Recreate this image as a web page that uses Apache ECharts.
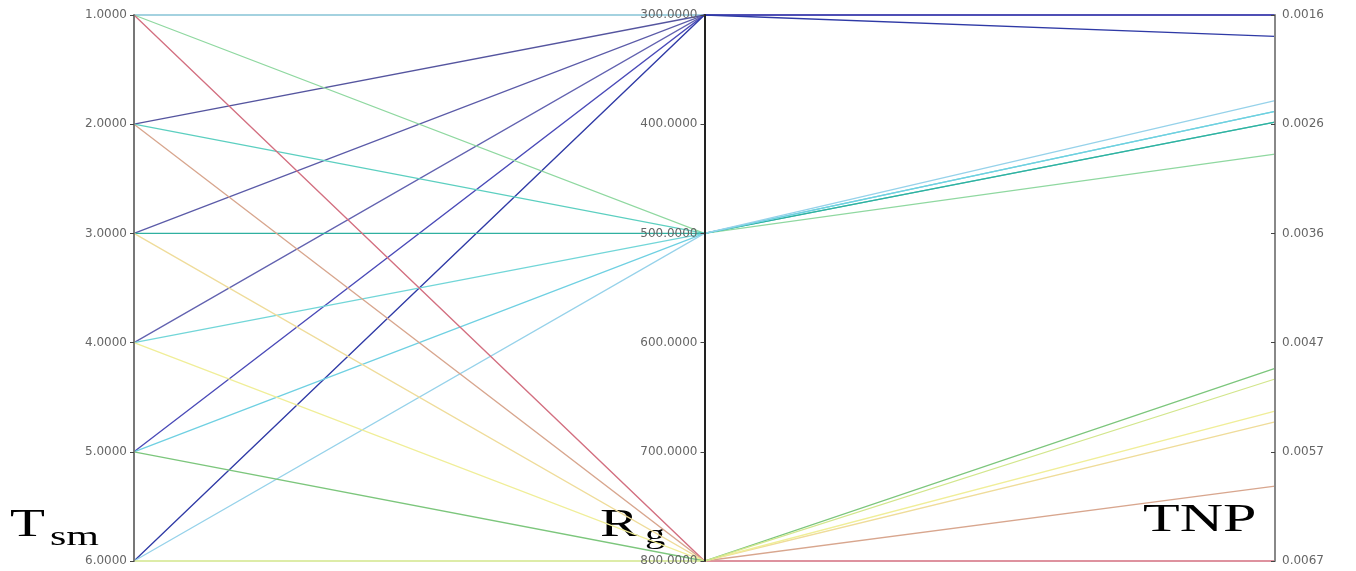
<!DOCTYPE html>
<html>
<head>
<meta charset="utf-8">
<script src="https://cdn.jsdelivr.net/npm/echarts@6/dist/echarts.min.js"></script>
<style>
  html, body { margin: 0; padding: 0; background: #fff; }
  #main { width: 1356px; height: 571px; }
</style>
</head>
<body>
<div id="main"></div>
<script>
// 三个维度的数据（每条折线 = 一组 Tsm / Rg / TNP）
var tsm = [1, 2, 3, 4, 5, 6, 1, 2, 3, 4, 5, 6, 1, 2, 3, 4, 5, 6];
var rg  = [300, 300, 300, 300, 300, 300, 500, 500, 500, 500, 500, 500, 800, 800, 800, 800, 800, 800];
var tnp = [0.0016, 0.0016, 0.0016, 0.0016, 0.0016, 0.0018,
           0.0029, 0.0026, 0.0026, 0.0025, 0.0025, 0.0024,
           0.0067, 0.0060, 0.0054, 0.0053, 0.0049, 0.0050];
// TNP 轴刻度
var tnpTicks = [0.0016, 0.00262, 0.00364, 0.00466, 0.00568, 0.0067];

// 线条颜色
var lineColors = ['#86c3d6', '#55559f', '#5b5ba8', '#6262b0', '#4a4ab8', '#2f3aa6',
                  '#8fd8a0', '#5ccfc0', '#2fb0a0', '#72d6d8', '#6fd0e2', '#96d2ea',
                  '#d36f80', '#d8a68e', '#efdc9a', '#f0ee98', '#7cc67c', '#d2e68c'];

var lines = [];
for (var i = 0; i < tsm.length; i++) {
  lines.push({ value: [tsm[i], rg[i], tnp[i]], lineStyle: { color: lineColors[i] } });
}

var labelFont = { fontFamily: 'DejaVu Sans', fontSize: 12, color: '#666' };
var fmt4 = function (v) { return v.toFixed(4); };
// 刻度朝左（平行坐标轴不认 inside，用负长度）
var tickLeft = { length: -4, lineStyle: { color: '#444', width: 1 } };

var myChart = echarts.init(document.getElementById('main'));
var option = {
  backgroundColor: '#fff',
  animation: false,
  parallel: {
    left: 134, right: 81, top: 15, bottom: 10,
    layout: 'horizontal',
    parallelAxisDefault: {
      type: 'value',
      inverse: true,
      name: '',
      splitLine: { show: false }
    }
  },
  parallelAxis: [
    { dim: 0, min: 1, max: 6, interval: 1,
      axisLine: { lineStyle: { color: '#777', width: 2 } },
      axisTick: tickLeft,
      axisLabel: Object.assign({ margin: -7, align: 'right', formatter: fmt4 }, labelFont) },
    { dim: 1, min: 300, max: 800, interval: 100,
      axisLine: { lineStyle: { color: '#222', width: 2 } },
      axisTick: tickLeft,
      axisLabel: Object.assign({ margin: -7, align: 'right', formatter: fmt4 }, labelFont) },
    { dim: 2, min: 0.0016, max: 0.0067,
      axisLine: { lineStyle: { color: '#888', width: 2 } },
      axisTick: Object.assign({ customValues: tnpTicks }, tickLeft),
      axisLabel: Object.assign({ margin: 7, align: 'left', customValues: tnpTicks, formatter: fmt4 }, labelFont) }
  ],
  series: [{
    type: 'parallel',
    smooth: false,
    lineStyle: { width: 1.3, opacity: 1 },
    emphasis: { disabled: true },
    data: lines
  }],
  graphic: [
    { type: 'text', x: 10, y: 525, scaleX: 1.43, style: { text: 'T', fontFamily: 'Liberation Serif', fontSize: 40, fill: '#000', verticalAlign: 'middle' } },
    { type: 'text', x: 50, y: 538, scaleX: 1.5, style: { text: 'sm', fontFamily: 'Liberation Serif', fontSize: 28, fill: '#000', verticalAlign: 'middle' } },
    { type: 'text', x: 600, y: 525, scaleX: 1.45, style: { text: 'R', fontFamily: 'Liberation Serif', fontSize: 40, fill: '#000', verticalAlign: 'middle' } },
    { type: 'text', x: 645, y: 536, scaleX: 1.45, style: { text: 'g', fontFamily: 'Liberation Serif', fontSize: 28, fill: '#000', verticalAlign: 'middle' } },
    { type: 'text', x: 1143, y: 520, scaleX: 1.5, style: { text: 'TNP', fontFamily: 'Liberation Serif', fontSize: 40, fill: '#000', verticalAlign: 'middle' } }
  ]
};
myChart.setOption(option);
</script>
</body>
</html>
